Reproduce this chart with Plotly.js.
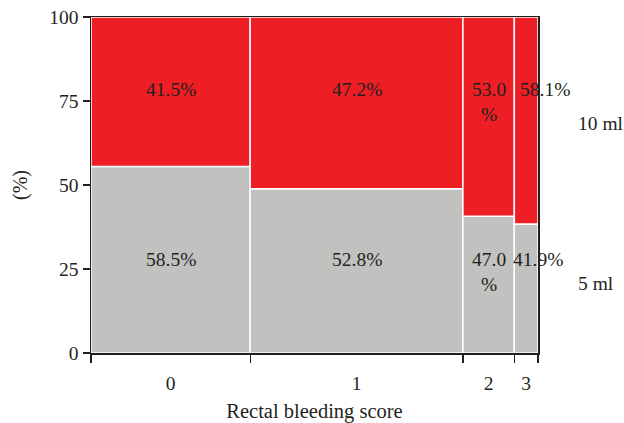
<!DOCTYPE html>
<html>
<head>
<meta charset="utf-8">
<script src="https://cdn.plot.ly/plotly-3.0.1.min.js"></script>
<style>html,body{margin:0;padding:0;background:#fff;}#chart{width:624px;height:423px;}</style>
</head>
<body>
<div id="chart"></div>
<script>
// Data
const categories = ["0", "1", "2", "3"];            // Rectal bleeding score
const columnShare = [35.6, 47.6, 11.5, 5.3];        // width of each column (share of patients, %)
const gray5ml = [55.5, 48.9, 40.7, 38.4];           // height of the 5 ml segment (%)
const label5ml = ["58.5%", "52.8%", "47.0<br>%", "41.9%"];
const label10ml = ["41.5%", "47.2%", "53.0<br>%", "58.1%"];
const groupNames = ["5 ml", "10 ml"];
const yTicks = [0, 25, 50, 75, 100];

// Derived geometry from data
const lefts = [], centers = [];
let acc = 0;
columnShare.forEach(w => { lefts.push(acc); centers.push(acc + w / 2); acc += w; });
const total = acc;
const boundaries = lefts.concat([total]);
const red10ml = gray5ml.map(v => 100 - v);

const font = "Liberation Serif, Times New Roman, serif";
const txt = "#231f20";
const RED = "#ed1f24", GRAY = "#c1c1bf";
const FS = 19.5;

const traces = [
  { type: "bar", name: groupNames[0], x: centers, y: gray5ml, base: 0, width: columnShare,
    marker: { color: GRAY, line: { color: "#ffffff", width: 1.5 } }, hoverinfo: "skip" },
  { type: "bar", name: groupNames[1], x: centers, y: red10ml, base: gray5ml, width: columnShare,
    marker: { color: RED, line: { color: "#ffffff", width: 1.5 } }, hoverinfo: "skip" }
];

const annotations = [];
const lastShift = [0, 0, 0, 19];
const lastShiftGray = [0, 0, 0, 12];
centers.forEach((c, i) => {
  annotations.push({ x: c, y: 82.2, xref: "x", yref: "y", text: label10ml[i], showarrow: false,
    yanchor: "top", xanchor: "center", xshift: lastShift[i], font: { family: font, size: FS, color: txt } });
  annotations.push({ x: c, y: 31.5, xref: "x", yref: "y", text: label5ml[i], showarrow: false,
    yanchor: "top", xanchor: "center", xshift: lastShiftGray[i], font: { family: font, size: FS, color: txt } });
});
annotations.push({ x: 1.085, y: 68.4, xref: "paper", yref: "y", text: groupNames[1], showarrow: false,
  xanchor: "left", yanchor: "middle", font: { family: font, size: FS, color: txt } });
annotations.push({ x: 1.085, y: 20.7, xref: "paper", yref: "y", text: groupNames[0], showarrow: false,
  xanchor: "left", yanchor: "middle", font: { family: font, size: FS, color: txt } });

const layout = {
  width: 624, height: 423,
  margin: { l: 91, r: 86, t: 17, b: 70 },
  paper_bgcolor: "#fff", plot_bgcolor: "#fff",
  barmode: "overlay", bargap: 0, showlegend: false,
  font: { family: font, size: FS, color: txt },
  xaxis: {
    range: [0, total], tickmode: "array", tickvals: centers, ticktext: categories,
    ticks: "outside", ticklen: 12, tickcolor: "rgba(0,0,0,0)",
    showgrid: false, zeroline: false, showline: true, linecolor: "#231f20", linewidth: 1.5,
    mirror: true,
    minor: { tickmode: "array", tickvals: boundaries, ticks: "outside", ticklen: 8, tickwidth: 1.2, tickcolor: "#231f20", showgrid: false },
    tickfont: { family: font, size: FS, color: txt },
    title: { text: "Rectal bleeding score", font: { family: font, size: 20.5, color: txt }, standoff: 10 },
    fixedrange: true
  },
  yaxis: {
    range: [0, 100], tickmode: "array", tickvals: yTicks, ticks: "outside", ticklen: 7, tickwidth: 1.2,
    tickcolor: "#231f20", showgrid: false, zeroline: false, showline: true, linecolor: "#231f20", linewidth: 1.5,
    mirror: true,
    tickfont: { family: font, size: FS, color: txt },
    title: { text: "(%)", font: { family: font, size: 20, color: txt }, standoff: 16 },
    fixedrange: true
  },
  annotations: annotations
};

Plotly.newPlot("chart", traces, layout, { displayModeBar: false, staticPlot: true });
</script>
</body>
</html>
